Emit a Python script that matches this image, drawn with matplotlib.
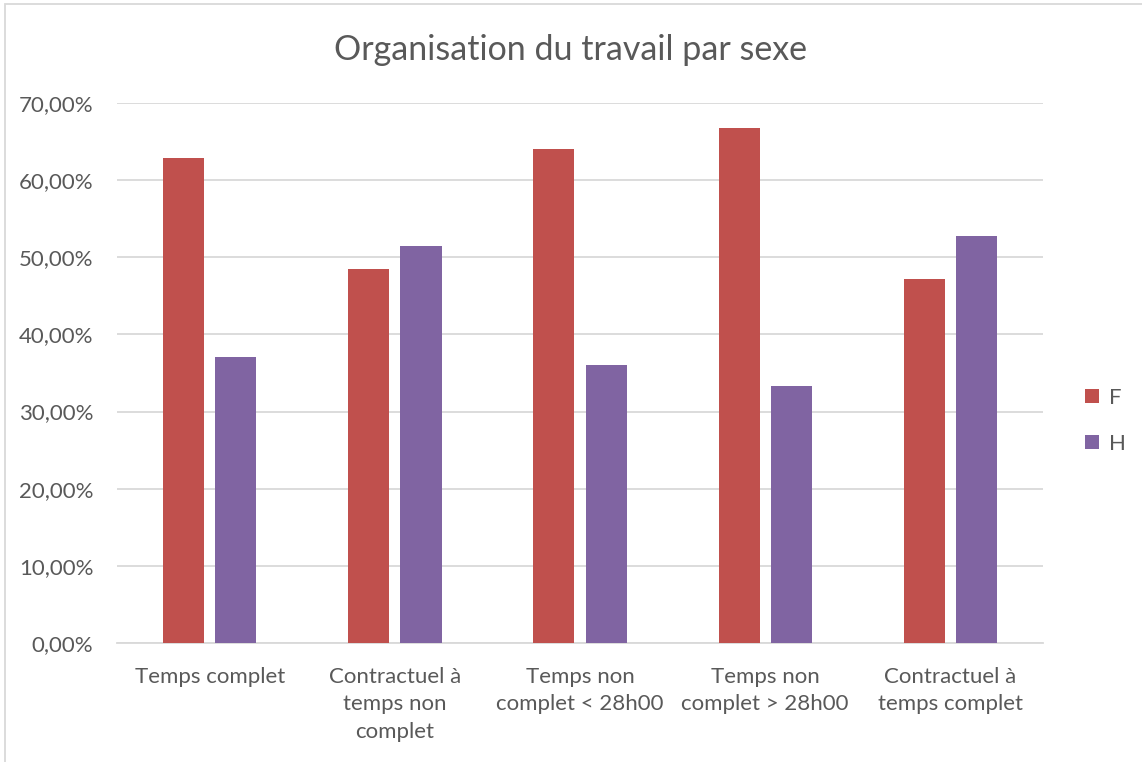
import numpy as np
import matplotlib
matplotlib.use('Agg')
import matplotlib.pyplot as plt
from matplotlib.patches import Rectangle

# Donnees (en %)
categories = ['Temps complet',
              'Contractuel à\ntemps non\ncomplet',
              'Temps non\ncomplet < 28h00',
              'Temps non\ncomplet > 28h00',
              'Contractuel à\ntemps complet']
femmes = [62.9, 48.5, 64.0, 66.7, 47.2]
hommes = [37.1, 51.5, 36.0, 33.3, 52.8]
yticks = [0, 10, 20, 30, 40, 50, 60, 70]

plt.rcParams['font.family'] = ['Lato', 'DejaVu Sans']
text_color = '#595959'

fig = plt.figure(figsize=(11.42, 7.62), dpi=100)
ax = fig.add_axes([0.1025, 0.1562, 0.8108, 0.7086])

x = np.arange(len(categories))
width = 0.222
offset = 0.141
ax.bar(x - offset, femmes, width, color='#C0504D', label='F', zorder=3)
ax.bar(x + offset, hommes, width, color='#8064A2', label='H', zorder=3)

ax.set_xlim(-0.5, len(categories) - 0.5)
ax.set_ylim(0, 70)
ax.set_yticks(yticks)
ax.set_yticklabels([f'{v:.2f}'.replace('.', ',') + '%' for v in yticks])
ax.set_xticks(x)
ax.set_xticklabels(categories, linespacing=1.48)
ax.tick_params(axis='both', length=0, colors=text_color, labelsize=16)
ax.tick_params(axis='y', pad=17)
ax.tick_params(axis='x', pad=17)
for lbl in ax.get_xticklabels():
    lbl.set_verticalalignment('top')

ax.grid(axis='y', color='#D9D9D9', linewidth=1.3, zorder=0)
for side in ['top', 'right', 'left']:
    ax.spines[side].set_visible(False)
ax.spines['bottom'].set_color('#D9D9D9')
ax.spines['bottom'].set_linewidth(1.3)

fig.text(0.5, 0.935, 'Organisation du travail par sexe', ha='center', va='center',
         fontsize=24.5, color=text_color)

leg = ax.legend(loc='center left', bbox_to_anchor=(1.024, 0.411), frameon=False,
                fontsize=16, handlelength=0.6, handleheight=0.6,
                labelspacing=1.15, handletextpad=0.45)
for t in leg.get_texts():
    t.set_color(text_color)

# cadre du graphique
fig.patches.append(Rectangle((5 / 1142, -0.01), 1.2, 1 - 4 / 762 + 0.01,
                             transform=fig.transFigure, fill=False,
                             edgecolor='#D9D9D9', linewidth=1.3))

plt.savefig('out.png', dpi=100)
plt.close()
